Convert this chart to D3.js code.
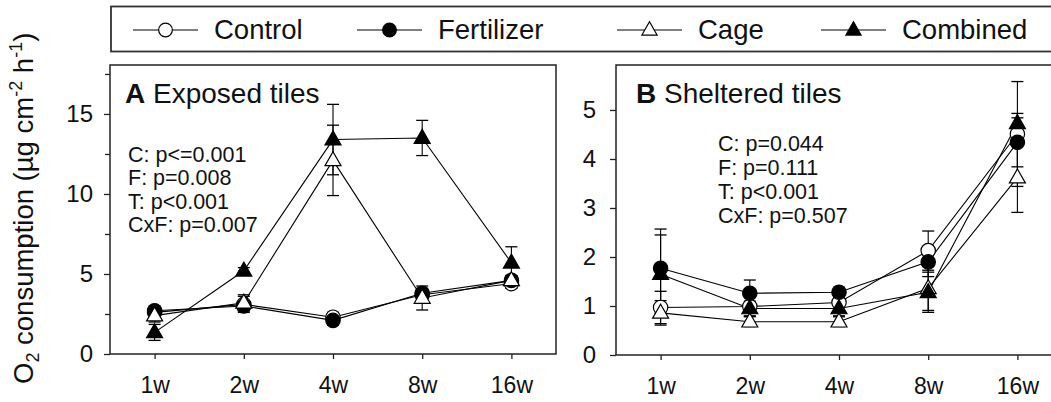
<!DOCTYPE html>
<html><head><meta charset="utf-8">
<script src="https://cdn.jsdelivr.net/npm/d3@7"></script>
<style>
body{margin:0;background:#fff;}
svg{display:block;font-family:"Liberation Sans",Arial,sans-serif;}
</style></head>
<body>
<svg id="chart" width="1051" height="402"></svg>
<script>
// ---- data ----
const weeks = ["1w","2w","4w","8w","16w"];
const seriesNames = ["Control","Fertilizer","Cage","Combined"];

// Panel A: Exposed tiles
const aControl    = [2.6, 3.1, 2.3, 3.7, 4.4];
const aControlErr = [0.3, 0.5, 0.3, 0.3, 0.3];
const aFert       = [2.7, 3.0, 2.1, 3.8, 4.6];
const aFertErr    = [0.3, 0.3, 0.3, 0.3, 0.3];
const aCage       = [2.4, 3.2, 12.1, 3.5, 4.6];
const aCageErr    = [0.4, 0.5, 2.2, 0.75, 0.3];
const aComb       = [1.35, 5.2, 13.4, 13.5, 5.7];
const aCombErr    = [0.5, 0.2, 2.2, 1.1, 1.0];

// Panel B: Sheltered tiles
const bControl    = [0.97, 0.99, 1.07, 2.13, 4.51];
const bControlErr = [0.33, 0.2, 0.15, 0.4, 1.07];
const bFert       = [1.77, 1.26, 1.28, 1.9, 4.34];
const bFertErr    = [0.8, 0.27, 0.1, 0.3, 0.5];
const bCage       = [0.86, 0.68, 0.68, 1.36, 3.62];
const bCageErr    = [0.25, 0.1, 0.1, 0.45, 0.71];
const bComb       = [1.65, 0.95, 0.95, 1.28, 4.73];
const bCombErr    = [0.8, 0.15, 0.15, 0.41, 0.2];

const aTicks = [0,5,10,15];
const aMinor = [2.5,7.5,12.5,17.5];
const bTicks = [0,1,2,3,4,5];

const aStats = ["C: p<=0.001","F: p=0.008","T: p<0.001","CxF: p=0.007"];
const bStats = ["C: p=0.044","F: p=0.111","T: p<0.001","CxF: p=0.507"];

// ---- drawing ----
const svg = d3.select("#chart");
const FONT = "Liberation Sans, Arial, sans-serif";

const markers = {
  Control:   {shape:"circle",   fill:"#fff"},
  Fertilizer:{shape:"circle",   fill:"#000"},
  Cage:      {shape:"triangle", fill:"#fff"},
  Combined:  {shape:"triangle", fill:"#000"}
};

function drawMarker(g, name, x, y, s){
  const m = markers[name];
  if(m.shape==="circle"){
    g.append("circle").attr("cx",x).attr("cy",y).attr("r",7.2*s)
      .attr("fill",m.fill).attr("stroke","#000").attr("stroke-width",1.2);
  } else {
    const h = 14*s, w = 16*s;
    g.append("path")
      .attr("d",`M${x},${y-h*0.62}L${x+w/2},${y+h*0.38}L${x-w/2},${y+h*0.38}Z`)
      .attr("fill",m.fill).attr("stroke","#000").attr("stroke-width",1.2)
      .attr("stroke-linejoin","miter");
  }
}

function panel(opt){
  const g = svg.append("g");
  const x = d3.scalePoint().domain(weeks).range([opt.x0,opt.x1]).padding(0.5);
  const y = d3.scaleLinear().domain([0,opt.ymax]).range([opt.y1,opt.y0]);

  // frame
  g.append("rect").attr("x",opt.x0).attr("y",opt.y0)
    .attr("width",opt.x1-opt.x0).attr("height",opt.y1-opt.y0)
    .attr("fill","none").attr("stroke","#222").attr("stroke-width",1.5);

  // y axis
  const ya = g.append("g").attr("transform",`translate(${opt.x0},0)`)
    .call(d3.axisLeft(y).tickValues(opt.ticks).tickSize(6).tickPadding(opt.ypad).tickFormat(d3.format("d")));
  ya.select(".domain").remove();
  ya.selectAll("line").attr("stroke","#222").attr("stroke-width",1.3);
  ya.selectAll("text").attr("font-size",24).attr("font-family",FONT).attr("fill","#111");
  if(opt.minor){
    const ym = g.append("g").attr("transform",`translate(${opt.x0},0)`)
      .call(d3.axisLeft(y).tickValues(opt.minor).tickSize(5).tickFormat(""));
    ym.select(".domain").remove();
    ym.selectAll("line").attr("stroke","#222").attr("stroke-width",1.3);
  }
  // x axis
  const xa = g.append("g").attr("transform",`translate(0,${opt.y1})`)
    .call(d3.axisBottom(x).tickSize(5).tickPadding(18));
  xa.select(".domain").remove();
  xa.selectAll("line").attr("stroke","#222").attr("stroke-width",1.3);
  xa.selectAll("text").attr("font-size",23).attr("font-family",FONT).attr("fill","#111");

  // title
  const t = g.append("text").attr("x",opt.titleX).attr("y",103)
    .attr("font-size",28).attr("font-family",FONT).attr("fill","#111");
  t.append("tspan").attr("font-weight","bold").text(opt.letter);
  t.append("tspan").text(" "+opt.title);

  // stats
  opt.stats.forEach((s,i)=>{
    g.append("text").attr("x",opt.statX).attr("y",opt.statY+i*opt.statDy)
      .attr("font-size",21.5).attr("font-family",FONT).attr("fill","#111").text(s);
  });

  const data = opt.series;
  // lines
  const line = d3.line().x((d,i)=>x(weeks[i])).y(d=>y(d));
  data.forEach(s=>{
    g.append("path").attr("d",line(s.v)).attr("fill","none")
      .attr("stroke","#000").attr("stroke-width",1.1);
  });
  // error bars
  data.forEach(s=>{
    s.v.forEach((v,i)=>{
      const cx = x(weeks[i]), e = s.e[i];
      const yt = y(v+e), yb = y(v-e);
      g.append("line").attr("x1",cx).attr("x2",cx).attr("y1",yt).attr("y2",yb)
        .attr("stroke","#000").attr("stroke-width",1.1);
      [yt,yb].forEach(yy=>{
        g.append("line").attr("x1",cx-6).attr("x2",cx+6).attr("y1",yy).attr("y2",yy)
          .attr("stroke","#000").attr("stroke-width",1.3);
      });
    });
  });
  // markers
  data.forEach(s=>{
    s.v.forEach((v,i)=>drawMarker(g, s.name, x(weeks[i]), y(v), 1));
  });
}

panel({x0:110,x1:556,y0:65,y1:354,ymax:18.06,ticks:aTicks,minor:aMinor,ypad:11,
  letter:"A",title:"Exposed tiles",titleX:125,stats:aStats,statX:128,statY:162,statDy:23.3,
  series:[
    {name:"Control",v:aControl,e:aControlErr},
    {name:"Fertilizer",v:aFert,e:aFertErr},
    {name:"Cage",v:aCage,e:aCageErr},
    {name:"Combined",v:aComb,e:aCombErr}
  ]});

panel({x0:616,x1:1062,y0:65,y1:355,ymax:5.918,ticks:bTicks,minor:null,ypad:14,
  letter:"B",title:"Sheltered tiles",titleX:636,stats:bStats,statX:718,statY:151,statDy:24,
  series:[
    {name:"Control",v:bControl,e:bControlErr},
    {name:"Fertilizer",v:bFert,e:bFertErr},
    {name:"Cage",v:bCage,e:bCageErr},
    {name:"Combined",v:bComb,e:bCombErr}
  ]});

// y label
const yl = svg.append("text").attr("transform","translate(33,384) rotate(-90)")
  .attr("font-size",27.5).attr("font-family",FONT).attr("fill","#111");
yl.append("tspan").text("O");
yl.append("tspan").attr("font-size",18).attr("dy",6).text("2");
yl.append("tspan").attr("dy",-6).text(" consumption (µg cm");
yl.append("tspan").attr("font-size",18).attr("dy",-11).text("-2");
yl.append("tspan").attr("dy",11).text(" h");
yl.append("tspan").attr("font-size",18).attr("dy",-11).text("-1");
yl.append("tspan").attr("dy",11).text(")");

// legend
const lg = svg.append("g");
lg.append("rect").attr("x",111).attr("y",6.5).attr("width",1000).attr("height",45)
  .attr("fill","none").attr("stroke","#333").attr("stroke-width",1.8);
const legX = d3.scaleOrdinal().domain(seriesNames).range([133,357,617,821]);
seriesNames.forEach(n=>{
  const lx = legX(n);
  lg.append("line").attr("x1",lx).attr("x2",lx+65).attr("y1",30).attr("y2",30)
    .attr("stroke","#000").attr("stroke-width",1.2);
  drawMarker(lg, n, lx+32.5, 30, 0.95);
  lg.append("text").attr("x",lx+81).attr("y",39).attr("font-size",27.5)
    .attr("font-family",FONT).attr("fill","#111").text(n);
});
</script>
</body></html>
